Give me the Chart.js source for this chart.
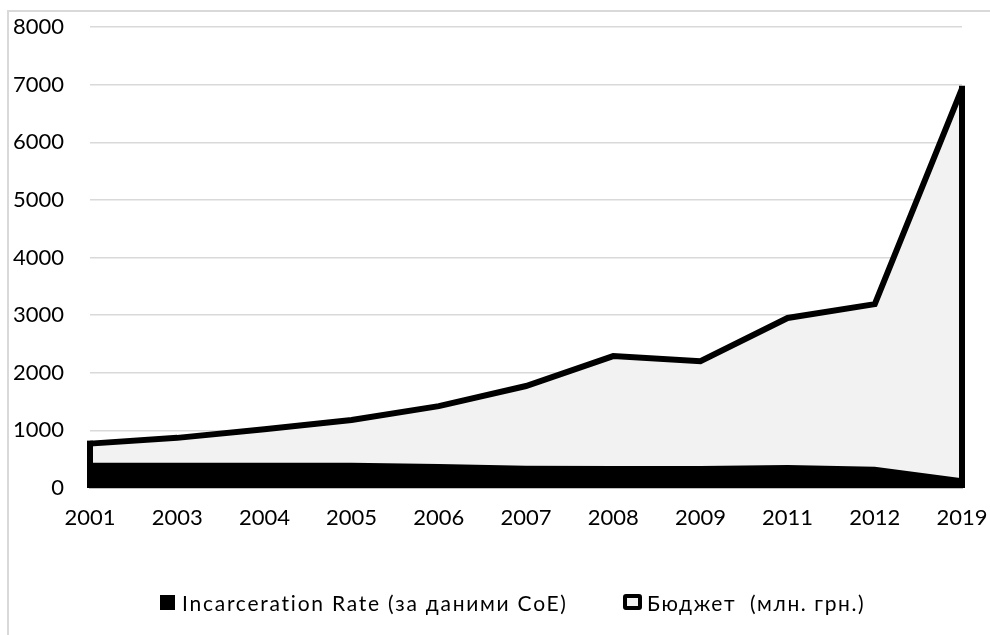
<!DOCTYPE html>
<html>
<head>
<meta charset="utf-8">
<script src="https://cdn.jsdelivr.net/npm/chart.js@4"></script>
<style>
  html, body { margin: 0; padding: 0; background: #fff; }
  #wrap { position: absolute; left: 0; top: 0; width: 990px; height: 635px; overflow: hidden; }
  #frame { position: absolute; left: 7px; top: 10px; width: 1100px; height: 800px; border: 2px solid #d9d9d9; box-sizing: border-box; }
  #cv { position: absolute; left: 0; top: 0; }
  .leg { position: absolute; top: 589px; height: 26px; display: flex; align-items: center; font-family: Lato, sans-serif; font-size: 21px; letter-spacing: 1.6px; color: #000; white-space: pre; }
  .box1 { width: 15px; height: 15px; background: #000; margin-right: 7px; }
  .box2 { width: 11px; height: 8px; background: #f2f2f2; border: 4px solid #000; border-radius: 3px; margin-right: 5px; }
</style>
</head>
<body>
<div id="wrap">
  <div id="frame"></div>
  <canvas id="cv" width="990" height="635"></canvas>
  <div class="leg" style="left:160px"><div class="box1"></div><span style="letter-spacing:1.75px">Incarceration Rate (за даними CoE)</span></div>
  <div class="leg" style="left:623px"><div class="box2"></div><span>Бюджет  (млн. грн.)</span></div>
</div>
<script>
const years = ['2001','2003','2004','2005','2006','2007','2008','2009','2011','2012','2019'];
const incarcerationRate = [440, 440, 440, 440, 415, 385, 380, 380, 400, 370, 170];
const budget = [770, 870, 1020, 1180, 1420, 1770, 2290, 2200, 2950, 3190, 6930];
const yTicks = { min: 0, max: 8000, step: 1000 };
const seriesNames = ['Incarceration Rate (за даними CoE)', 'Бюджет  (млн. грн.)'];

const budgetSides = {
  id: 'budgetSides',
  afterDatasetDraw(chart, args) {
    if (args.index !== 1) return;
    const pts = args.meta.data;
    const yZero = chart.scales.y.getPixelForValue(0);
    const ctx = chart.ctx;
    ctx.save();
    ctx.strokeStyle = '#000';
    ctx.lineWidth = 6;
    ctx.lineCap = 'butt';
    [pts[0], pts[pts.length - 1]].forEach(p => {
      ctx.beginPath();
      ctx.moveTo(p.x, yZero);
      ctx.lineTo(p.x, p.y - 3);
      ctx.stroke();
    });
    ctx.restore();
  }
};

new Chart(document.getElementById('cv'), {
  type: 'line',
  data: {
    labels: years,
    datasets: [
      {
        label: seriesNames[0],
        data: incarcerationRate,
        backgroundColor: '#000',
        borderColor: '#000',
        borderWidth: 0,
        fill: 'origin',
        pointRadius: 0,
        tension: 0,
        order: 0
      },
      {
        label: seriesNames[1],
        data: budget,
        backgroundColor: '#f2f2f2',
        borderColor: '#000',
        borderWidth: 6,
        borderJoinStyle: 'miter',
        fill: 'origin',
        pointRadius: 0,
        tension: 0,
        order: 1
      }
    ]
  },
  options: {
    responsive: false,
    animation: false,
    devicePixelRatio: 1,
    layout: { padding: { top: 27, right: 28, bottom: 0, left: 0 } },
    plugins: {
      legend: { display: false },
      tooltip: { enabled: false }
    },
    scales: {
      x: {
        type: 'category',
        offset: false,
        grid: { display: false, drawTicks: false },
        border: { display: true, color: '#bfbfbf', width: 2 },
        ticks: { font: { family: 'Lato', size: 22 }, color: '#000', padding: 17, autoSkip: false, maxRotation: 0 },
        afterFit(scale) {
          scale.height = 147;
          scale.paddingLeft = 0;
          scale.paddingRight = 0;
        }
      },
      y: {
        min: yTicks.min,
        max: yTicks.max,
        grid: {
          drawTicks: false,
          color: c => (c.tick && c.tick.value === 0) ? '#bfbfbf' : '#d9d9d9',
          lineWidth: 1.5
        },
        border: { display: false },
        ticks: {
          stepSize: yTicks.step,
          font: { family: 'Lato', size: 22 },
          color: '#000',
          padding: 26,
          callback: v => String(v)
        },
        afterFit(scale) {
          scale.width = 90;
          scale.paddingTop = 0;
          scale.paddingBottom = 0;
        }
      }
    }
  },
  plugins: [budgetSides]
});
</script>
</body>
</html>
